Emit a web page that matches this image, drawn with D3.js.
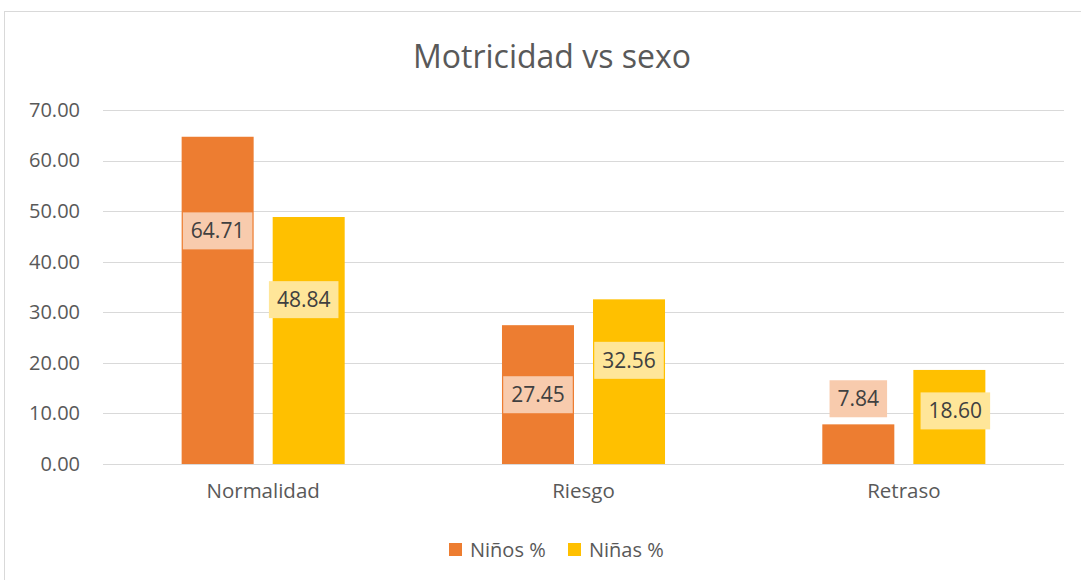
<!DOCTYPE html>
<html><head><meta charset="utf-8">
<script src="https://cdn.jsdelivr.net/npm/d3@7"></script>
<style>body{margin:0;background:#fff}svg{display:block}</style>
</head><body><svg id="c" width="1081" height="580"></svg>
<script>
const categories = ["Normalidad", "Riesgo", "Retraso"];
const seriesNames = ["Niños %", "Niñas %"];
const ninos = [64.71, 27.45, 7.84];
const ninas = [48.84, 32.56, 18.60];
// label anchor heights (in data units), as placed in the original
const ninosLabelAt = [46.1, 13.7, 12.9];
const ninasLabelAt = [32.5, 20.5, 10.5];
const ninosLabelDx = [0, 0, 0];
const ninasLabelDx = [-5, 0, 6];
const yTicks = [0, 10, 20, 30, 40, 50, 60, 70];

(function () {
const colors = ["#ED7D31", "#FFC000"];
const labelFill = ["#F8CBAD", "#FFE699"];
const font = "'Open Sans', sans-serif";

const svg = d3.select("#c");
svg.append("rect").attr("x", 4.5).attr("y", 11.5).attr("width", 1090).attr("height", 600)
  .attr("fill", "#fff").attr("stroke", "#d9d9d9");

const mLeft = 103, mRight = 1064, mTop = 110, mBottom = 464;
const y = d3.scaleLinear().domain([0, 70]).range([mBottom, mTop]);
const x0 = d3.scaleBand().domain(categories).range([mLeft, mRight]).paddingInner(0.491).paddingOuter(0.2455);
const x1 = d3.scaleBand().domain(seriesNames).range([0, x0.bandwidth()]).paddingInner(0.209);

svg.append("text").attr("x", 552).attr("y", 68).attr("text-anchor", "middle")
  .attr("font-family", font).attr("font-size", 32).attr("fill", "#595959").text("Motricidad vs sexo");

const g = svg.append("g");
g.selectAll("line.grid").data(yTicks).join("line")
  .attr("x1", mLeft).attr("x2", mRight)
  .attr("y1", d => Math.round(y(d)) + 0.5).attr("y2", d => Math.round(y(d)) + 0.5)
  .attr("stroke", "#d9d9d9").attr("stroke-width", 1);

const yAxis = svg.append("g").attr("transform", `translate(${mLeft},0)`)
  .call(d3.axisLeft(y).tickValues(yTicks).tickFormat(d3.format(".2f")).tickSize(0).tickPadding(23));
yAxis.select(".domain").remove();
yAxis.selectAll("text").attr("font-family", font).attr("font-size", 20).attr("fill", "#595959");

const xAxis = svg.append("g").attr("transform", `translate(0,${mBottom})`)
  .call(d3.axisBottom(x0).tickSize(0).tickPadding(19));
xAxis.select(".domain").remove();
xAxis.selectAll("text").attr("font-family", font).attr("font-size", 20.5).attr("fill", "#595959");

const series = [
  {name: seriesNames[0], vals: ninos, at: ninosLabelAt, dx: ninosLabelDx},
  {name: seriesNames[1], vals: ninas, at: ninasLabelAt, dx: ninasLabelDx}
];

series.forEach((s, si) => {
  const sg = svg.append("g");
  sg.selectAll("rect").data(categories).join("rect")
    .attr("x", c => x0(c) + x1(s.name))
    .attr("y", (c, i) => y(s.vals[i]))
    .attr("width", x1.bandwidth())
    .attr("height", (c, i) => mBottom - y(s.vals[i]))
    .attr("fill", colors[si]);
});

series.forEach((s, si) => {
  categories.forEach((c, i) => {
    const cx = x0(c) + x1(s.name) + x1.bandwidth() / 2 + s.dx[i];
    const cy = y(s.at[i]);
    const lg = svg.append("g");
    const t = lg.append("text").attr("x", cx).attr("y", cy + 7.5).attr("text-anchor", "middle")
      .attr("font-family", font).attr("font-size", 21).attr("fill", "#404040").text(s.vals[i].toFixed(2));
    const w = t.node().getComputedTextLength();
    lg.insert("rect", "text").attr("x", cx - w / 2 - 8).attr("y", cy - 18.5)
      .attr("width", w + 16).attr("height", 37).attr("fill", labelFill[si]);
  });
});

const legend = svg.append("g");
const legX = [449, 568];
seriesNames.forEach((n, i) => {
  legend.append("rect").attr("x", legX[i]).attr("y", 543).attr("width", 13).attr("height", 13).attr("fill", colors[i]);
  legend.append("text").attr("x", legX[i] + 21).attr("y", 557).attr("font-family", font)
    .attr("font-size", 20).attr("fill", "#595959").text(n);
});
})();
</script></body></html>
